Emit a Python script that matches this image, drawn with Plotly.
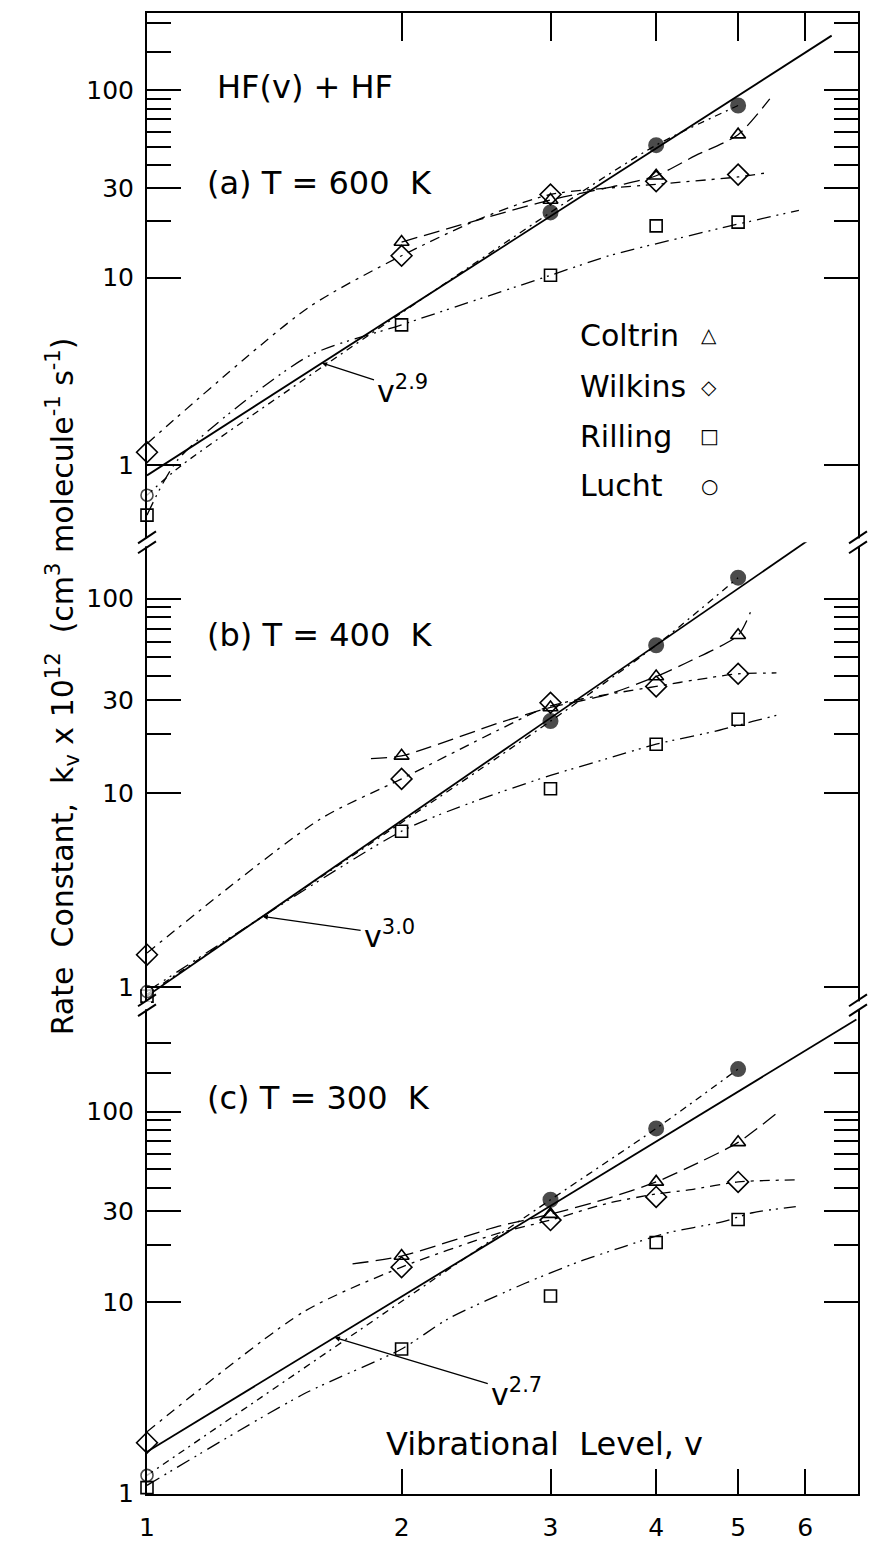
import math
import plotly.graph_objects as go
from plotly.subplots import make_subplots

FONT = "DejaVu Sans"

# ---------------------------------------------------------------- data
levels = [1, 2, 3, 4, 5]
tick_levels = [1, 2, 3, 4, 5, 6]
tick_labels = ["1", "2", "3", "4", "5", "6"]
y_tick_vals = [1, 10, 30, 100]
y_tick_text = ["1", "10", "30", "100"]

# rate constants k_v x 1e12 (cm3 molecule-1 s-1); None = not measured
coltrin_600 = [None, 15.5, 26.0, 35.0, 58.0]
wilkins_600 = [1.17, 13.1, 27.8, 32.7, 35.5]
rilling_600 = [0.54, 5.6, 10.3, 18.9, 19.8]
lucht_600 = [0.69, None, 22.3, 51.0, 83.0]

coltrin_400 = [None, 15.5, 27.5, 39.7, 64.7]
wilkins_400 = [1.47, 11.8, 29.1, 35.3, 41.0]
rilling_400 = [0.90, 6.35, 10.5, 17.8, 23.9]
lucht_400 = [0.95, None, 23.4, 57.5, 128.0]

coltrin_300 = [None, 17.5, 29.0, 42.8, 69.0]
wilkins_300 = [1.84, 15.3, 27.0, 35.7, 42.8]
rilling_300 = [1.07, 5.7, 10.8, 20.6, 27.2]
lucht_300 = [1.24, None, 34.5, 81.6, 167.0]

# hand-drawn trend curves through each data set
coltrin_600_cv = [2, 3, 3.6, 4, 4.45, 5, 5.45]
coltrin_600_ck = [15.5, 26, 31, 35, 44.8, 58, 90]
wilkins_600_cv = [1, 1.55, 2, 2.5, 3, 4, 5, 5.45]
wilkins_600_ck = [1.3, 6.9, 13.1, 21, 27.8, 31.5, 34.5, 36.5]
rilling_600_cv = [1, 1.09, 1.55, 2, 3, 3.52, 4.27, 4.77, 5.9]
rilling_600_ck = [0.54, 1.08, 3.8, 5.6, 10.3, 13.1, 16.3, 18.4, 22.9]
lucht_600_cv = [1, 1.1, 3, 4, 5]
lucht_600_ck = [0.69, 1.0, 22.3, 51, 83]

coltrin_400_cv = [1.84, 2, 2.63, 3, 3.5, 4, 4.4, 5, 5.17]
coltrin_400_ck = [15.0, 15.5, 23.2, 27.5, 32, 39.7, 48, 64.7, 85]
wilkins_400_cv = [1, 1.6, 2, 2.6, 3, 4, 4.6, 5, 5.55]
wilkins_400_ck = [1.5, 7.3, 11.8, 21, 28, 35.3, 39, 41, 41.4]
rilling_400_cv = [1, 2, 2.45, 3, 3.5, 4, 4.75, 5.2, 5.6]
rilling_400_ck = [0.95, 6.35, 9.1, 12.3, 15, 17.8, 21, 23.3, 25.3]
lucht_400_cv = [1, 3, 4, 5]
lucht_400_ck = [0.92, 23.4, 57.5, 128]

coltrin_300_cv = [1.75, 2, 2.6, 3, 3.5, 4, 4.35, 5, 5.57]
coltrin_300_ck = [15.9, 17.5, 25, 29, 35, 42.8, 50.5, 69, 99]
wilkins_300_cv = [1, 1.53, 2, 2.6, 3, 3.5, 4, 4.4, 5, 5.93]
wilkins_300_ck = [2.1, 8.9, 15.3, 23, 27, 33, 37, 39, 42.8, 43.9]
rilling_300_cv = [1, 1.53, 2, 2.27, 2.8, 3.25, 3.65, 4.1, 4.8, 5.2, 5.85]
rilling_300_ck = [1.1, 3.3, 5.7, 8.2, 12.6, 16.4, 19.5, 23, 26.5, 29.5, 31.8]
lucht_300_cv = [1, 3, 4, 5]
lucht_300_ck = [1.24, 34.5, 81.6, 167]

# power-law fits k = A * v^n
fit_600_coef, fit_600_exp, fit_600_vmax, fit_600_vlabel = 0.88, 2.9, 6.45, 1.61
fit_400_coef, fit_400_exp, fit_400_vmax, fit_400_vlabel = 0.90, 3.0, 6.6, 1.37
fit_300_coef, fit_300_exp, fit_300_vmax, fit_300_vlabel = 1.65, 2.7, 6.9, 1.667

series_names = ["Coltrin", "Wilkins", "Rilling", "Lucht"]
temperatures = ["600", "400", "300"]

# ---------------------------------------------------------------- layout geometry
W, H = 870, 1552
LM, RM, TM, BM = 147, 10, 13, 45
PW, PH = W - LM - RM, H - TM - BM


def px(x):
    return (x - LM) / PW


def py(y):
    return (H - BM - y) / PH


split_ab, split_bc = 547, 1014
y_domains = [[py(split_ab), 1.0], [py(split_bc), py(split_ab)], [0.0, py(split_bc)]]
y_ranges = [[-0.413, 2.413], [-0.093, 2.289], [-0.004, 2.557]]
y_minor = [[20, 40, 50, 60, 70, 80, 90, 160, 230],
           [20, 40, 50, 60, 70, 80, 90],
           [20, 40, 50, 60, 70, 80, 90, 160, 230]]
x_range = [0, math.log10(6.93)]

marker_styles = {
    "Coltrin": dict(symbol="triangle-up-open", size=13, color="black",
                    line=dict(width=1.6, color="black")),
    "Wilkins": dict(symbol="diamond-open", size=16, color="black",
                    line=dict(width=1.6, color="black")),
    "Rilling": dict(symbol="square-open", size=12, color="black",
                    line=dict(width=1.6, color="black")),
}
dash_styles = {
    "Coltrin": "16px,7px",
    "Wilkins": "10px,6px,3px,6px",
    "Rilling": "14px,6px,2px,5px,2px,6px",
    "Lucht": "7px,5px,2px,5px",
}

panels = [
    dict(points=[coltrin_600, wilkins_600, rilling_600, lucht_600],
         curves=[(coltrin_600_cv, coltrin_600_ck), (wilkins_600_cv, wilkins_600_ck),
                 (rilling_600_cv, rilling_600_ck), (lucht_600_cv, lucht_600_ck)],
         fit=(fit_600_coef, fit_600_exp, fit_600_vmax, fit_600_vlabel), lead=(81, 26)),
    dict(points=[coltrin_400, wilkins_400, rilling_400, lucht_400],
         curves=[(coltrin_400_cv, coltrin_400_ck), (wilkins_400_cv, wilkins_400_ck),
                 (rilling_400_cv, rilling_400_ck), (lucht_400_cv, lucht_400_ck)],
         fit=(fit_400_coef, fit_400_exp, fit_400_vmax, fit_400_vlabel), lead=(127, 18)),
    dict(points=[coltrin_300, wilkins_300, rilling_300, lucht_300],
         curves=[(coltrin_300_cv, coltrin_300_ck), (wilkins_300_cv, wilkins_300_ck),
                 (rilling_300_cv, rilling_300_ck), (lucht_300_cv, lucht_300_ck)],
         fit=(fit_300_coef, fit_300_exp, fit_300_vmax, fit_300_vlabel), lead=(182, 55)),
]

fig = make_subplots(rows=3, cols=1, shared_xaxes=True, vertical_spacing=0)

annotations = []
for i, p in enumerate(panels):
    row = i + 1
    coef, expo, vmax, vlab = p["fit"]
    # solid power-law line (straight on log-log axes)
    fv = [1, vmax]
    fig.add_trace(go.Scatter(x=fv, y=[coef * v ** expo for v in fv], mode="lines",
                             line=dict(color="black", width=1.8), showlegend=False,
                             hoverinfo="skip"), row=row, col=1)
    # hand-drawn trend curves
    for name, (cv, ck) in zip(series_names, p["curves"]):
        fig.add_trace(go.Scatter(x=cv, y=ck, mode="lines",
                                 line=dict(color="black", width=1.3, dash=dash_styles[name],
                                           shape="spline", smoothing=0.7),
                                 showlegend=False, hoverinfo="skip"), row=row, col=1)
    # data points
    for name, vals in zip(series_names, p["points"]):
        if name == "Lucht":
            bold = [v >= 3 for v in levels]
            mk = dict(symbol="circle",
                      color=["black" if b else "white" for b in bold],
                      size=[14 if b else 12 for b in bold],
                      line=dict(color="black", width=[2 if b else 1.6 for b in bold]))
        else:
            mk = marker_styles[name]
        fig.add_trace(go.Scatter(x=levels, y=vals, mode="markers", marker=mk, name=name,
                                 cliponaxis=False, showlegend=False), row=row, col=1)
    # exponent label with leader to the fit line
    xr = "x" if row == 1 else f"x{row}"
    yr = "y" if row == 1 else f"y{row}"
    annotations.append(dict(
        x=math.log10(vlab), y=math.log10(coef * vlab ** expo), xref=xr, yref=yr,
        text=f"v<sup>{expo:.1f}</sup>", showarrow=True, ax=p["lead"][0], ay=p["lead"][1],
        axref="pixel", ayref="pixel", arrowhead=2, arrowsize=0.8, arrowwidth=1.3,
        arrowcolor="black", standoff=0, startstandoff=2,
        font=dict(family=FONT, size=30, color="black")))

# ---------------------------------------------------------------- axes
for i in range(3):
    key = "yaxis" if i == 0 else f"yaxis{i + 1}"
    fig.layout[key].update(
        type="log", range=y_ranges[i], domain=y_domains[i],
        tickmode="array", tickvals=y_tick_vals, ticktext=y_tick_text,
        ticks="inside", ticklen=34, tickwidth=2, tickcolor="black",
        showline=True, linewidth=2, linecolor="black", mirror="ticks",
        showgrid=False, zeroline=False, ticklabelstandoff=6,
        tickfont=dict(family=FONT, size=25, color="black"),
        minor=dict(tickmode="array", tickvals=y_minor[i], ticks="inside", ticklen=24,
                   tickwidth=2, tickcolor="black", showgrid=False))

fig.update_layout(
    xaxis=dict(type="log", range=x_range, side="top", showline=True, linewidth=2,
               linecolor="black", ticks="inside", tickmode="array", tickvals=tick_levels[1:],
               ticklen=28, tickwidth=2, tickcolor="black", showticklabels=False,
               showgrid=False, zeroline=False),
    xaxis2=dict(type="log", range=x_range, showline=False, ticks="", showticklabels=False,
                showgrid=False, zeroline=False),
    xaxis3=dict(type="log", range=x_range, showline=True, linewidth=2, linecolor="black",
                ticks="inside", tickmode="array", tickvals=tick_levels, ticktext=tick_labels,
                ticklen=25, tickwidth=2, tickcolor="black", showgrid=False, zeroline=False,
                ticklabelstandoff=10, tickfont=dict(family=FONT, size=25, color="black")),
)

# ---------------------------------------------------------------- axis breaks
shapes = []
for yb in (split_ab, split_bc):
    for xb in (LM, W - RM):
        shapes.append(dict(type="rect", xref="paper", yref="paper",
                           x0=px(xb - 4), x1=px(xb + 4), y0=py(yb + 4), y1=py(yb - 4),
                           fillcolor="white", line=dict(width=0), layer="above"))
        for dy in (-5, 5):
            shapes.append(dict(type="line", xref="paper", yref="paper",
                               x0=px(xb - 9), y0=py(yb + dy + 6), x1=px(xb + 9), y1=py(yb + dy - 6),
                               line=dict(color="black", width=2), layer="above"))

# ---------------------------------------------------------------- text
def note(text, x, y, size, xanchor="left", angle=0):
    return dict(text=text, x=px(x), y=py(y), xref="paper", yref="paper", showarrow=False,
                xanchor=xanchor, yanchor="middle", textangle=angle,
                font=dict(family=FONT, size=size, color="black"))


annotations.append(note("HF(v) + HF", 215, 88, 32))
for tag, t, yy in zip("abc", temperatures, (184, 640, 1108)):
    annotations.append(note(f"({tag}) T = {t}  K", 205, yy, 32))

legend_glyphs = ["△", "◇", "□", "○"]
for name, glyph, yy in zip(series_names, legend_glyphs, (338, 390, 440, 490)):
    annotations.append(note(name, 579, yy, 30))
    annotations.append(note(glyph, 711, yy, 20, xanchor="center"))

annotations.append(note("Vibrational  Level, v", 546, 1457, 32, xanchor="center"))
annotations.append(note(
    "Rate  Constant,  k<sub>v</sub> x 10<sup>12</sup>  (cm<sup>3</sup> molecule<sup>-1</sup> s<sup>-1</sup>)",
    62, 692, 30, xanchor="center", angle=-90))

fig.update_layout(
    width=W, height=H, margin=dict(l=LM, r=RM, t=TM, b=BM, pad=0),
    paper_bgcolor="white", plot_bgcolor="white", showlegend=False,
    font=dict(family=FONT, color="black"),
    annotations=annotations, shapes=shapes,
)

fig.write_html("out.html")
